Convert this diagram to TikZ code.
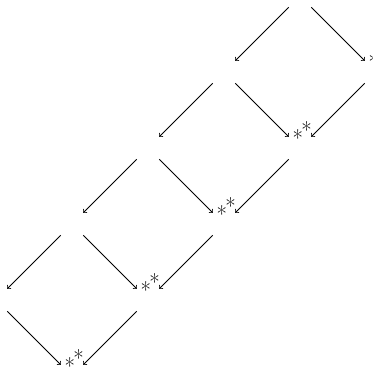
\documentclass[tikz,border=0pt]{standalone}
\usepackage{tikz}
\usetikzlibrary{arrows, positioning, calc}

\tikzset{
  spot/.style={minimum size=16.5pt, inner sep=0pt},
  starspot/.style={spot},
  link/.style={->, line width=0.6pt}
}
\newcommand{\twostars}{\smash{\raisebox{1pt}{\makebox[0pt]{\fontsize{17}{17}\selectfont\hspace{3.3pt}*\kern-1.4pt\raisebox{6pt}{*}}}}}

\begin{document}
\begin{tikzpicture}[x=0.75pt, y=-0.75pt]
        % visible window
        \clip (0,0) rectangle (373,369);

        % top vertex
        \node[spot] (top) at (300,-4) {};

        % left column of empty vertices
        \node[spot] (a1) at (224,72) {};
        \node[spot] (a2) at (148,148) {};
        \node[spot] (a3) at (72,224) {};
        \node[spot] (a4) at (-4,300) {};

        % right column of starred vertices
        \node[starspot] (b1) at (376,72) {\twostars};
        \node[starspot] (b2) at (300,148) {\twostars};
        \node[starspot] (b3) at (224,224) {\twostars};
        \node[starspot] (b4) at (148,300) {\twostars};
        \node[starspot] (b5) at (72,376) {\twostars};

        % arrows
        \draw[link] (top) -- (a1);
        \draw[link] (top) -- (b1);
        \draw[link] (a1) -- (a2);
        \draw[link] (a1) -- (b2);
        \draw[link] (b1) -- (b2);
        \draw[link] (a2) -- (a3);
        \draw[link] (a2) -- (b3);
        \draw[link] (b2) -- (b3);
        \draw[link] (a3) -- (a4);
        \draw[link] (a3) -- (b4);
        \draw[link] (b3) -- (b4);
        \draw[link] (a4) -- (b5);
        \draw[link] (b4) -- (b5);
    \end{tikzpicture}
\end{document}
